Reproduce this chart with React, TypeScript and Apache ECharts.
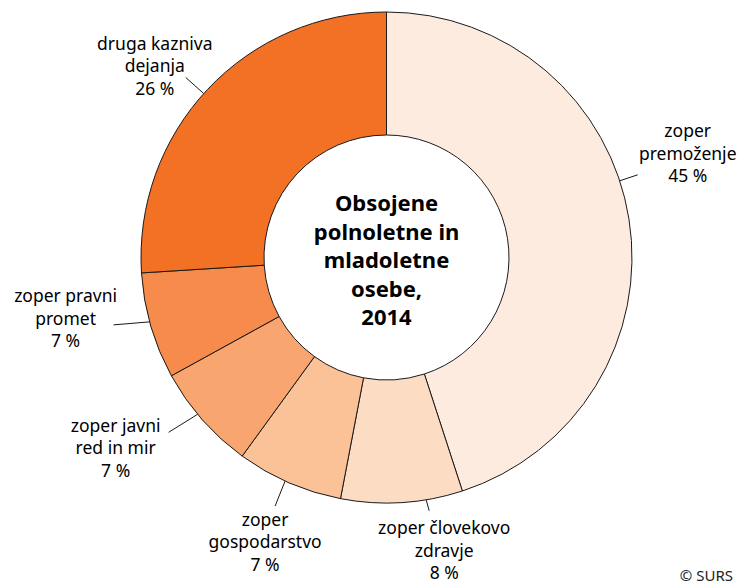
import React, { useEffect, useRef } from "react";
import * as echarts from "echarts";

const categories = [
  "zoper\npremoženje",
  "zoper človekovo\nzdravje",
  "zoper\ngospodarstvo",
  "zoper javni\nred in mir",
  "zoper pravni\npromet",
  "druga kazniva\ndejanja",
];
const shares = [45, 8, 7, 7, 7, 26];
const colors = ["#FEEBDF", "#FDDCC4", "#FBC298", "#F8A570", "#F68B4B", "#F37124"];
const centerTitle = "Obsojene\npolnoletne in\nmladoletne\nosebe,\n2014";
const sourceNote = "© SURS";

// label styling (positions of leader lines & texts, not data)
const CX = 386.5;
const CY = 257.5;
const R_OUT = 245.5;
const R_IN = 122.5;
const angleShift = [-9.2, -5.7, 1, 1.7, 1, -1.3];
const lineVec = [[18, -6], [3, 11], [-10, 25], [-29, 18], [-36, 3], [-18, -16]];
const labelOffset = [[50, -22], [15, 39], [-10, 35], [-53, 15], [-48, -7], [-31, -12.5]];

export default function App() {
  const ref = useRef<HTMLDivElement>(null);
  useEffect(() => {
    document.body.style.margin = "0";
    const chart = echarts.init(ref.current!, undefined, { renderer: "svg" });
    const total = shares.reduce((a, b) => a + b, 0);
    const cum: number[] = [];
    let acc = 0;
    shares.forEach((v) => {
      cum.push(acc);
      acc += v;
    });
    chart.setOption({
      animation: false,
      backgroundColor: "#ffffff",
      graphic: [
        {
          type: "text",
          x: CX,
          y: CY + 1.5,
          z: 100,
          style: {
            text: centerTitle,
            font: "bold 22px 'Noto Sans'",
            fill: "#000",
            align: "center",
            verticalAlign: "middle",
            lineHeight: 28.5,
          },
        },
        {
          type: "text",
          x: 733,
          y: 582,
          z: 100,
          style: {
            text: sourceNote,
            font: "15px 'Noto Sans'",
            fill: "#222",
            align: "right",
            verticalAlign: "bottom",
          },
        },
      ],
      series: [
        {
          type: "pie",
          center: [CX, CY],
          radius: [R_IN, R_OUT],
          startAngle: 90,
          clockwise: true,
          avoidLabelOverlap: false,
          itemStyle: { borderColor: "#1a1a1a", borderWidth: 1 },
          emphasis: { disabled: true },
          label: {
            show: true,
            position: "outside",
            formatter: (p: any) => `${p.name}\n${p.value} %`,
            fontFamily: "Noto Sans",
            fontSize: 17.5,
            lineHeight: 22.5,
            color: "#000",
          },
          labelLine: {
            show: true,
            length: 10,
            length2: 0,
            lineStyle: { color: "#1a1a1a", width: 1 },
          },
          labelLayout: (params: any) => {
            const i = params.dataIndex;
            const theta =
              (((cum[i] + shares[i] / 2) / total) * 360 + angleShift[i]) *
              (Math.PI / 180);
            const sx = CX + R_OUT * Math.sin(theta);
            const sy = CY - R_OUT * Math.cos(theta);
            const ex = sx + lineVec[i][0];
            const ey = sy + lineVec[i][1];
            return {
              x: ex + labelOffset[i][0],
              y: ey + labelOffset[i][1],
              align: "center",
              verticalAlign: "middle",
              labelLinePoints: [
                [sx, sy],
                [ex, ey],
              ],
            };
          },
          data: categories.map((name, i) => ({
            name,
            value: shares[i],
            itemStyle: { color: colors[i] },
          })),
        },
      ],
    });
    return () => chart.dispose();
  }, []);
  return <div ref={ref} style={{ width: 741, height: 583 }} />;
}
